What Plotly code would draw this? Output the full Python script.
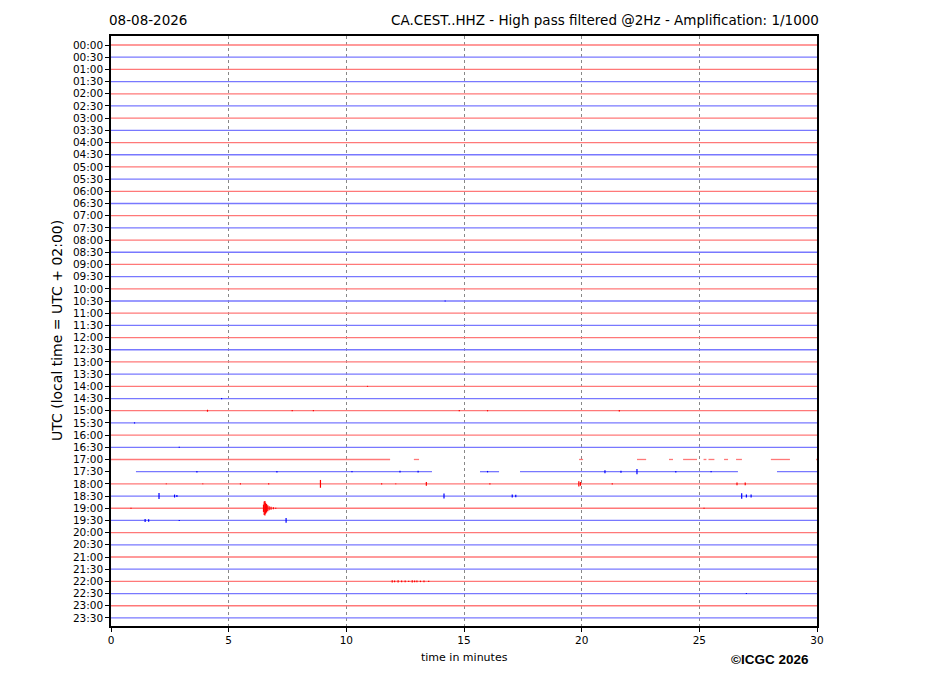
import plotly.graph_objects as go

# one line per half hour
row_labels = [f"{h:02d}:{m:02d}" for h in range(24) for m in (0, 30)]
minute_ticks = [0, 5, 10, 15, 20, 25, 30]

# stretches of the line that have data (minutes); rows not listed run 0-30
data_segments = {
    "17:00": [(0, 11.86), (12.87, 13.09), (19.89, 20.06), (22.35, 22.74),
              (23.71, 23.88), (24.31, 24.90), (25.18, 25.30), (25.39, 25.64),
              (26.05, 26.22), (26.56, 26.81), (28.04, 28.85), (29.96, 30)],
    "17:30": [(1.06, 13.64), (15.68, 16.49), (17.38, 26.64), (28.30, 30)],
}

# events: (row, minute, half amplitude in rows)
events = [
    ("19:00", 6.48, 0.30), ("19:00", 6.51, 0.55), ("19:00", 6.54, 0.60),
    ("19:00", 6.57, 0.45), ("19:00", 6.61, 0.35), ("19:00", 6.66, 0.25),
    ("19:00", 6.72, 0.17), ("19:00", 6.80, 0.12), ("19:00", 6.90, 0.08),
    ("19:00", 7.00, 0.05), ("19:00", 0.85, 0.05), ("19:00", 25.2, 0.05),
    ("18:00", 8.90, 0.32), ("18:00", 13.40, 0.15), ("18:00", 19.88, 0.22),
    ("18:00", 19.95, 0.15), ("18:00", 26.60, 0.12), ("18:00", 26.95, 0.12),
    ("18:00", 16.10, 0.06), ("18:00", 5.50, 0.05), ("18:00", 21.30, 0.05),
    ("18:00", 2.35, 0.04), ("18:00", 3.90, 0.04), ("18:00", 6.70, 0.05),
    ("18:00", 11.50, 0.05), ("18:00", 12.10, 0.04),
    ("18:30", 2.04, 0.25), ("18:30", 2.70, 0.12), ("18:30", 2.80, 0.08),
    ("18:30", 14.15, 0.20), ("18:30", 17.05, 0.12), ("18:30", 17.20, 0.10),
    ("18:30", 26.80, 0.22), ("18:30", 27.00, 0.12), ("18:30", 27.20, 0.12),
    ("19:30", 1.45, 0.12), ("19:30", 1.60, 0.10), ("19:30", 7.44, 0.20),
    ("19:30", 2.90, 0.04),
    ("17:30", 3.65, 0.06), ("17:30", 7.05, 0.06), ("17:30", 10.24, 0.05),
    ("17:30", 12.28, 0.07), ("17:30", 13.05, 0.07), ("17:30", 20.99, 0.12),
    ("17:30", 21.67, 0.08), ("17:30", 22.35, 0.22), ("17:30", 24.00, 0.06),
    ("17:30", 16.00, 0.06), ("17:30", 25.50, 0.05),
    ("22:00", 11.95, 0.10), ("22:00", 12.05, 0.07), ("22:00", 12.20, 0.09),
    ("22:00", 12.35, 0.07), ("22:00", 12.50, 0.08), ("22:00", 12.65, 0.06),
    ("22:00", 12.80, 0.09), ("22:00", 12.90, 0.07), ("22:00", 13.00, 0.08),
    ("22:00", 13.15, 0.06), ("22:00", 13.30, 0.08), ("22:00", 13.50, 0.05),
    ("15:00", 4.10, 0.08), ("15:00", 7.70, 0.05), ("15:00", 8.60, 0.05),
    ("15:00", 14.80, 0.05), ("15:00", 16.00, 0.05), ("15:00", 21.60, 0.06),
    ("14:30", 4.70, 0.05), ("14:00", 10.90, 0.04), ("10:30", 14.20, 0.04),
    ("15:30", 1.00, 0.05), ("16:30", 2.90, 0.04), ("22:30", 27.00, 0.04),
]

row_colors = ["rgb(255,120,120)", "rgb(120,120,255)"]
event_colors = ["red", "blue"]

fig = go.Figure()

for i, lab in enumerate(row_labels):
    xs, ys = [], []
    for a, b in data_segments.get(lab, [(0, 30)]):
        xs += [a, b, None]
        ys += [i, i, None]
    fig.add_trace(go.Scatter(x=xs, y=ys, mode="lines", hoverinfo="skip",
                             line=dict(color=row_colors[i % 2], width=1.3)))

for c in (0, 1):
    xs, ys = [], []
    for lab, m, amp in events:
        r = row_labels.index(lab)
        if r % 2 != c:
            continue
        xs += [m, m, None]
        ys += [r - amp, r + amp, None]
    fig.add_trace(go.Scatter(x=xs, y=ys, mode="lines", hoverinfo="skip",
                             line=dict(color=event_colors[c], width=1.2)))

fnt = "DejaVu Sans"
fig.update_layout(
    width=927, height=696,
    margin=dict(l=103, r=118, t=28, b=78),
    paper_bgcolor="white", plot_bgcolor="white",
    showlegend=False,
    font=dict(family=fnt, size=10.5, color="black"),
    xaxis=dict(range=[0, 30], tickvals=minute_ticks, showgrid=True,
               gridcolor="#888", griddash="dot", gridwidth=0.6,
               zeroline=False, showline=True, linecolor="black", linewidth=1.5,
               mirror=True, ticks="outside", ticklen=4, tickcolor="black"),
    yaxis=dict(range=[47.66, -0.74], tickvals=list(range(len(row_labels))),
               ticktext=row_labels, showgrid=False, zeroline=False,
               showline=True, linecolor="black", linewidth=1.5, mirror=True,
               ticks="outside", ticklen=4, tickcolor="black"),
    annotations=[
        dict(text="08-08-2026", xref="paper", yref="paper", x=0, y=1,
             xanchor="left", yanchor="bottom", xshift=-4, yshift=6,
             showarrow=False, font=dict(size=13.5)),
        dict(text="CA.CEST..HHZ - High pass filtered @2Hz - Amplification: 1/1000",
             xref="paper", yref="paper", x=1, y=1, xanchor="right",
             yanchor="bottom", xshift=4, yshift=6, showarrow=False,
             font=dict(size=13.5)),
        dict(text="time in minutes", xref="paper", yref="paper", x=0.5, y=0,
             xanchor="center", yanchor="middle", yshift=-31, showarrow=False,
             font=dict(size=11)),
        dict(text="UTC (local time = UTC + 02:00)", xref="paper", yref="paper",
             x=0, y=0.5, xanchor="center", yanchor="middle", xshift=-54,
             textangle=-90, showarrow=False, font=dict(size=14)),
        dict(text="<b>©ICGC 2026</b>", xref="paper", yref="paper", x=0.933,
             y=0, xanchor="center", yanchor="middle", yshift=-33,
             showarrow=False, font=dict(family="Liberation Sans", size=13.5)),
    ],
)

fig.write_html("out.html")
